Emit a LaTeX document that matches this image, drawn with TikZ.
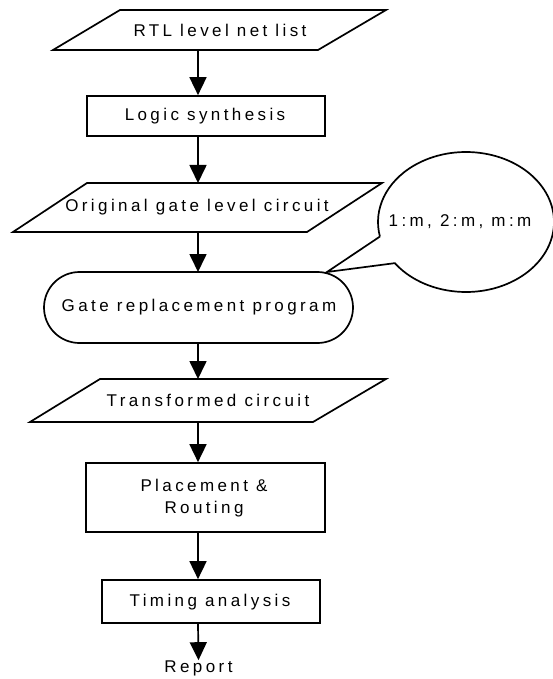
\documentclass[tikz,border=0pt]{standalone}
\usepackage{fontspec}
\setmainfont{Liberation Sans}[LetterSpace=20]
\usetikzlibrary{arrows.meta,calc}
\begin{document}
\begin{tikzpicture}[x=1pt,y=-1pt,
  outl/.style={line width=1.7pt, line join=miter},
  txt/.style={inner sep=0pt, font=\fontsize{17}{22}\selectfont, align=center},
  box/.style={outl, draw, inner sep=0pt},
  arr/.style={line width=1.7pt, -{Triangle[length=18pt,width=17pt]}}]
\useasboundingbox (0,0) rectangle (553,679);
% RTL parallelogram
\draw[outl] (120,10) -- (386,10) -- (318,50) -- (53,50) -- cycle;
\node[txt] (rtl) at (220,30) {RTL level net list};
\coordinate (rtlb) at (198,50);
% Logic synthesis
\node[box, minimum width=238pt, minimum height=40pt] (logic) at (206,116) {};
\node[txt] (logict) at (205,116) {Logic synthesis};
% Original gate level circuit
\draw[outl] (87,183) -- (382,183) -- (307,232) -- (13,232) -- cycle;
\node[txt] (orig) at (197,207) {Original gate level circuit};
\coordinate (origt) at (198,183);
\coordinate (origb) at (198,232);
% Gate replacement program (stadium)
\draw[outl] (79.5,272) -- (317.5,272) arc(-90:90:35.5) -- (79.5,343) arc(90:270:35.5) -- cycle;
\node[txt] (gate) at (199,307.5) {Gate replacement program};
\coordinate (gatet) at (198,272);
\coordinate (gateb) at (198,343);
% Transformed circuit
\draw[outl] (100,379) -- (386,379) -- (313,422) -- (30,422) -- cycle;
\node[txt] (trans) at (208,400) {Transformed circuit};
\coordinate (transt) at (198,379);
\coordinate (transb) at (198,422);
% Placement & Routing
\node[box, minimum width=239pt, minimum height=69pt] (place) at (205.5,497.5) {};
\node[txt] (placet) at (204,498) {Placement \&\\Routing};
% Timing analysis
\node[box, minimum width=218pt, minimum height=43pt] (timing) at (211,601.5) {};
\node[txt] (timingt) at (210,602) {Timing analysis};
% Report
\node[txt] (report) at (198.5,668) {Report};
% callout
\draw[outl, line join=miter] ($(466,222)+(168:88 and 70)$) -- (327,272) -- ($(466,222)+(144:88 and 70)$)
  arc[start angle=144, end angle=-192, x radius=88, y radius=70];
\node[txt] (note) at (460,222) {1:m, 2:m, m:m};
% connectors
\draw[arr] (rtlb) -- (rtlb |- logic.north);
\draw[arr] (rtlb |- logic.south) -- (origt);
\draw[arr] (origb) -- (gatet);
\draw[arr] (gateb) -- (transt);
\draw[arr] (transb) -- (transb |- place.north);
\draw[arr] (transb |- place.south) -- (transb |- timing.north);
\draw[arr] (transb |- timing.south) -- (report.north);
\end{tikzpicture}
\end{document}
